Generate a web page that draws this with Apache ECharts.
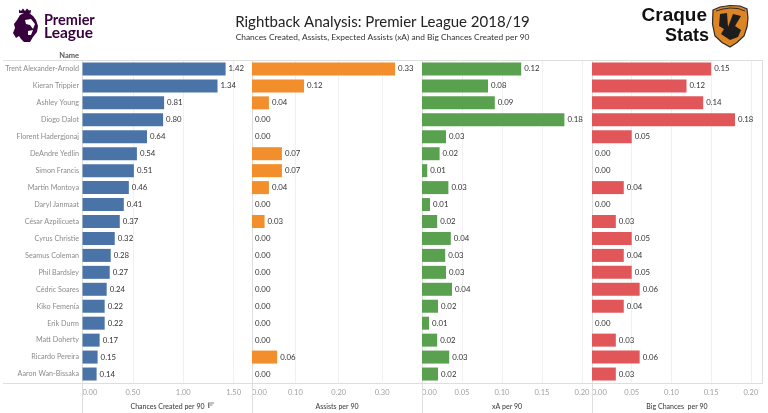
<!DOCTYPE html>
<html>
<head>
<meta charset="utf-8">
<style>html,body{margin:0;padding:0;background:#fff}#c{width:768px;height:413px}</style>
<script src="https://cdn.jsdelivr.net/npm/echarts@6/dist/echarts.min.js"></script>
</head>
<body>
<div id="c"></div>
<script>
const players = ["Trent Alexander-Arnold","Kieran Trippier","Ashley Young","Diogo Dalot","Florent Hadergjonaj","DeAndre Yedlin","Simon Francis","Martín Montoya","Daryl Janmaat","César Azpilicueta","Cyrus Christie","Seamus Coleman","Phil Bardsley","Cédric Soares","Kiko Femenía","Erik Durm","Matt Doherty","Ricardo Pereira","Aaron Wan-Bissaka"];
const chancesCreated = [1.42,1.34,0.81,0.80,0.64,0.54,0.51,0.46,0.41,0.37,0.32,0.28,0.27,0.24,0.22,0.22,0.17,0.15,0.14];
const assists = [0.33,0.12,0.039,0,0,0.069,0.069,0.039,0,0.029,0,0,0,0,0,0,0,0.058,0];
const expectedAssists = [0.124,0.0825,0.091,0.178,0.030,0.022,0.0066,0.033,0.010,0.019,0.036,0.029,0.030,0.0375,0.020,0.0088,0.019,0.034,0.020];
const bigChances = [0.15,0.119,0.14,0.18,0.05,0,0,0.04,0,0.03,0.05,0.04,0.05,0.06,0.04,0,0.03,0.06,0.03];

const panelNames = ["Chances Created per 90","Assists per 90","xA per 90","Big Chances  per 90"];
const panelColors = ["#4a74a8","#f28e2b","#59a14f","#e15759"];
const panelValues = [chancesCreated,assists,expectedAssists,bigChances];
const panelMax = [1.687,0.392,0.2125,0.214];
const panelStep = [0.5,0.1,0.05,0.05];
const panelLeft = [82.5,252,422,592];
const panelWidth = 170;
const plotTop = 60.5, plotHeight = 322;
const font = 'Lato';

const grids = [], xAxes = [], yAxes = [], series = [];
panelNames.forEach((name,i)=>{
  grids.push({left:panelLeft[i],width:panelWidth,top:plotTop,height:plotHeight,containLabel:false,outerBoundsMode:'none'});
  xAxes.push({
    type:'value',gridIndex:i,min:0,max:panelMax[i],interval:panelStep[i],position:'bottom',
    axisLine:{show:false},axisTick:{show:false},
    splitLine:{show:true,showMinLine:false,showMaxLine:false,lineStyle:{color:'#f0f0f0',width:1}},
    axisLabel:{show:true,showMaxLabel:false,alignMinLabel:'left',margin:6,color:'#a0a0a0',fontFamily:font,fontSize:7.5,
      formatter:v=>v.toFixed(2)},
    name,nameLocation:'middle',nameGap:20.5,
    nameTextStyle:{color:'#444',fontFamily:font,fontSize:7,fontWeight:500}
  });
  yAxes.push({
    type:'category',gridIndex:i,data:players,inverse:true,
    axisLine:{show:false},axisTick:{show:false},splitLine:{show:false},
    axisLabel:{show:i===0,color:'#8c8c8c',fontFamily:font,fontSize:7.2,margin:3.5,interval:0}
  });
  series.push({
    type:'bar',xAxisIndex:i,yAxisIndex:i,data:panelValues[i],barWidth:13,silent:true,
    itemStyle:{color:panelColors[i]},
    label:{show:true,position:'right',distance:3,color:'#333',fontFamily:font,fontSize:7.8,
      formatter:p=>p.value.toFixed(2)},
    animation:false
  });
});

const rule = '#dedede';
const line = (x1,y1,x2,y2)=>({type:'line',silent:true,shape:{x1,y1,x2,y2},style:{stroke:rule,lineWidth:1},z:1});
const poly = (points,fill)=>({type:'polygon',silent:true,shape:{points},style:{fill},z:5});
const stroke = (points,c,w)=>({type:'polyline',silent:true,shape:{points},style:{stroke:c,lineWidth:w,fill:null},z:5});
const graphics = [
  line(3,60.5,762,60.5), line(3,383.5,762,383.5),
  line(82.5,60,82.5,413), line(252.5,60,252.5,413), line(422.5,60,422.5,413), line(592.5,60,592.5,413), line(762.5,60,762.5,384),
  {type:'text',silent:true,x:79,y:56,style:{text:'Name',align:'right',verticalAlign:'middle',fill:'#555',font:'bold 7.5px Lato'}},
  {type:'text',silent:true,x:382.5,y:22,style:{text:'Rightback Analysis: Premier League 2018/19',align:'center',verticalAlign:'middle',fill:'#222',font:'15px Lato'}},
  {type:'text',silent:true,x:382.5,y:37,style:{text:'Chances Created, Assists, Expected Assists (xA) and Big Chances Created per 90',align:'center',verticalAlign:'middle',fill:'#333',font:'8.4px Lato'}},
  // sort icon
  stroke([[208,403],[214,403]],'#666',0.8), stroke([[208,405],[212.5,405]],'#666',0.8), stroke([[208,407],[210,407]],'#666',0.8), stroke([[208.5,403],[208.5,408]],'#666',0.8),
  // Premier League crest
  poly([[20,15],[24,13],[29,13],[33,16],[36,20],[38,26],[37,32],[33,37],[30,42],[24,42],[21,39],[19,36],[16,38],[13,33],[15,28],[14,24],[17,20]],'#38003c'),
  poly([[19,13],[19,9.5],[21,11],[23,8.5],[25,11],[27,8.5],[29,10.5],[31,10],[30.5,13.5]],'#38003c'),
  poly([[25,20],[31,19],[35,24],[33,29],[30,25],[26,24]],'#fff'),
  poly([[28,31],[33,30],[31,35],[28,35]],'#fff'),
  {type:'text',silent:true,x:44,y:20,style:{text:'Premier',align:'left',verticalAlign:'middle',fill:'#38003c',font:'bold 14.5px Lato'}},
  {type:'text',silent:true,x:44,y:33,style:{text:'League',align:'left',verticalAlign:'middle',fill:'#38003c',font:'bold 15.5px Lato'}},
  // Craque Stats
  {type:'text',silent:true,x:707,y:15.5,style:{text:'Craque',align:'right',verticalAlign:'middle',fill:'#111',font:'bold 19px "Liberation Sans"'}},
  {type:'text',silent:true,x:709,y:36.5,style:{text:'Stats',align:'right',verticalAlign:'middle',fill:'#111',font:'bold 18px "Liberation Sans"'}},
  {type:'polygon',silent:true,shape:{points:[[713,10],[720,7],[730,5.5],[740,6],[747,9],[748,18],[747,27],[744,36],[737,42.5],[730,47],[722,42.5],[715,36],[712.5,24]]},style:{fill:'#dd8425',stroke:'#2b2b2b',lineWidth:1.2},z:5},
  poly([[720,14],[727,13],[728,27],[733,14],[741,16],[735,26],[741,30],[738,37],[730,40],[721,34],[724,29],[719,26]],'#1d1d1d'),
  stroke([[716,11],[723,9],[730,8],[738,8.5],[745,11]],'#2b2b2b',1)
];

const chart = echarts.init(document.getElementById('c'),null,{renderer:'canvas'});
chart.setOption({
  animation:false,backgroundColor:'#fff',
  grid:grids,xAxis:xAxes,yAxis:yAxes,series,graphic:graphics
});
</script>
</body>
</html>
